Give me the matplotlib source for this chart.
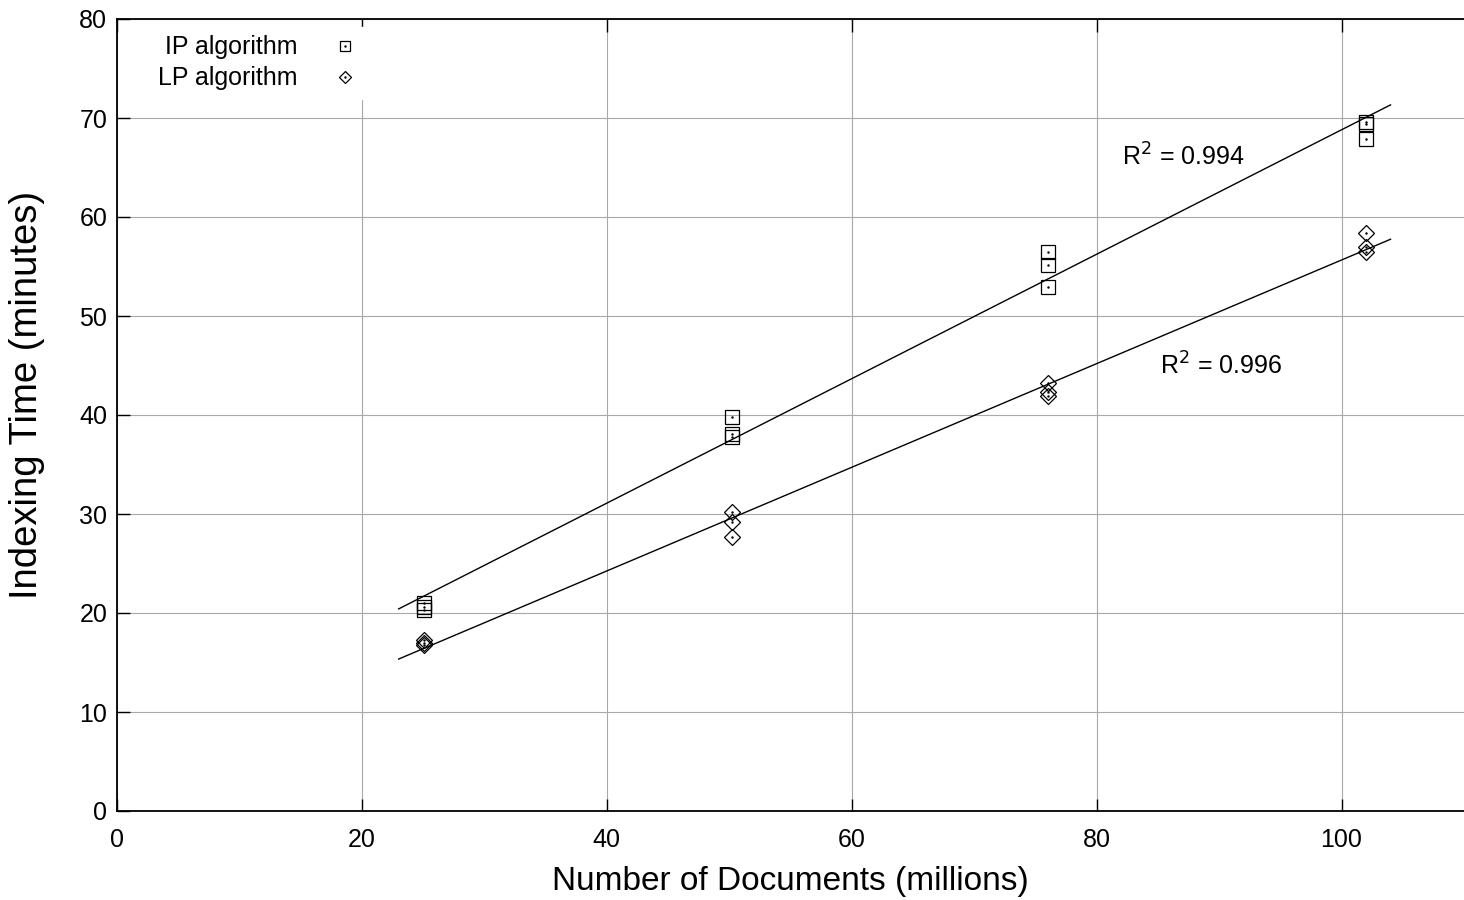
import numpy as np
import matplotlib
matplotlib.use("Agg")
import matplotlib.pyplot as plt
from matplotlib.lines import Line2D
from matplotlib.legend_handler import HandlerTuple

plt.rcParams['font.family'] = ['Liberation Sans', 'DejaVu Sans']

# Data (millions of documents, minutes)
ip_x = [25.1, 25.1, 25.1, 50.2, 50.2, 50.2, 76.0, 76.0, 76.0, 102.0, 102.0, 102.0]
ip_y = [21.0, 20.6, 20.3, 39.8, 38.1, 37.8, 56.5, 55.2, 52.9, 69.6, 69.4, 67.9]
lp_x = [25.1, 25.1, 25.1, 50.2, 50.2, 50.2, 76.0, 76.0, 76.0, 102.0, 102.0, 102.0]
lp_y = [17.3, 17.0, 16.8, 30.2, 29.2, 27.7, 43.2, 42.3, 41.9, 58.4, 57.0, 56.5]
fit_range = [23.0, 104.0]
ip_r2 = "0.994"
lp_r2 = "0.996"
x_ticks = [0, 20, 40, 60, 80, 100]
y_ticks = [0, 10, 20, 30, 40, 50, 60, 70, 80]

W, H = 1464, 900
fig = plt.figure(figsize=(W / 100, H / 100), dpi=100)
ax = fig.add_axes([117 / W, (H - 811) / H, (1464 - 117) / W, (811 - 19) / H])
ax.set_xlim(0, 110)
ax.set_ylim(0, 80)

ax.set_xticks(x_ticks)
ax.set_yticks(y_ticks)
ax.tick_params(direction='in', length=9, width=1.0, labelsize=18, top=True,
               right=False)
ax.tick_params(axis='x', pad=12)
ax.tick_params(axis='y', pad=7)
ax.grid(True, color='#a8a8a8', linewidth=0.8)
ax.set_axisbelow(True)
for s in ['left', 'bottom', 'top']:
    ax.spines[s].set_linewidth(1.3)
ax.spines['right'].set_visible(False)

xs = np.array(fit_range)
for xv, yv in [(ip_x, ip_y), (lp_x, lp_y)]:
    k, b = np.polyfit(xv, yv, 1)
    ax.plot(xs, k * xs + b, color='black', linewidth=1.0, zorder=3)

ax.plot(ip_x, ip_y, linestyle='none', marker='s', markersize=10, markerfacecolor='none',
        markeredgecolor='black', markeredgewidth=0.9, zorder=4)
ax.plot(ip_x, ip_y, linestyle='none', marker='.', markersize=1.5, color='black', zorder=4)
ax.plot(lp_x, lp_y, linestyle='none', marker='D', markersize=8, markerfacecolor='none',
        markeredgecolor='black', markeredgewidth=0.9, zorder=4)
ax.plot(lp_x, lp_y, linestyle='none', marker='.', markersize=1.5, color='black', zorder=4)

ax.text(82.1, 66.1, r"R$^2$ = " + ip_r2, fontsize=18, va='center', ha='left')
ax.text(85.2, 44.9, r"R$^2$ = " + lp_r2, fontsize=18, va='center', ha='left')

h_ip = (Line2D([], [], linestyle='none', marker='s', markersize=7.5, markerfacecolor='none',
               markeredgecolor='black', markeredgewidth=0.9),
        Line2D([], [], linestyle='none', marker='.', markersize=1.5, color='black'))
h_lp = (Line2D([], [], linestyle='none', marker='D', markersize=6, markerfacecolor='none',
               markeredgecolor='black', markeredgewidth=0.9),
        Line2D([], [], linestyle='none', marker='.', markersize=1.5, color='black'))
leg = ax.legend([h_ip, h_lp], ['IP algorithm', 'LP algorithm'],
                handler_map={tuple: HandlerTuple(ndivide=1, pad=0)},
                loc='upper left', bbox_to_anchor=(0.015, 1.006), markerfirst=False,
                fontsize=18, frameon=True, fancybox=False, framealpha=1.0,
                edgecolor='white', handlelength=2.0, handletextpad=0.9,
                labelspacing=0.28, borderpad=0.35)

ax.set_xlabel("Number of Documents (millions)", fontsize=24, labelpad=10)
ax.set_ylabel("Indexing Time (minutes)", fontsize=27.5)
ax.yaxis.set_label_coords((45 - 117) / 1347, (811 - 395) / 792)

fig.savefig("out.png", dpi=100)
